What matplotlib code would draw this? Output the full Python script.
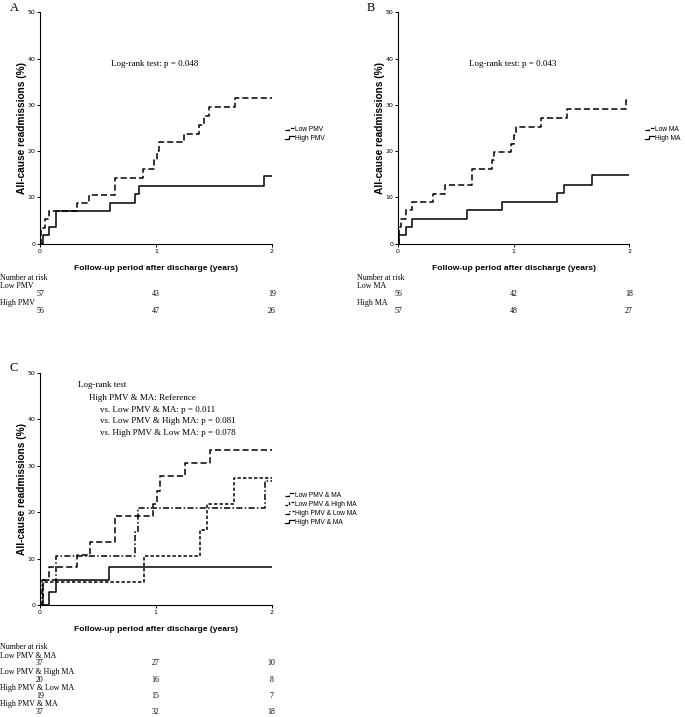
import matplotlib
matplotlib.use("Agg")
import matplotlib.pyplot as plt
from matplotlib.lines import Line2D
from matplotlib.legend_handler import HandlerBase
from matplotlib.transforms import blended_transform_factory

# panel A: PMV
a_low_t = [0, 0.01, 0.04, 0.08, 0.32, 0.42, 0.65, 0.89, 0.98, 1.01, 1.03, 1.24, 1.37, 1.41, 1.46, 1.68, 2.0]
a_low_y = [0, 3.5, 5.3, 7.0, 8.8, 10.6, 14.3, 16.2, 18.0, 20.0, 21.9, 23.8, 25.7, 27.6, 29.5, 31.5, 31.5]
a_high_t = [0, 0.03, 0.08, 0.14, 0.60, 0.82, 0.85, 1.93, 2.0]
a_high_y = [0, 1.8, 3.6, 7.1, 8.9, 10.7, 12.5, 14.6, 14.6]

# panel B: MA
b_low_t = [0, 0.005, 0.03, 0.07, 0.12, 0.30, 0.41, 0.64, 0.81, 0.83, 0.98, 1.00, 1.02, 1.24, 1.46, 1.97, 2.0]
b_low_y = [0, 3.6, 5.4, 7.2, 9.0, 10.8, 12.6, 16.2, 18.0, 19.8, 21.6, 23.4, 25.3, 27.2, 29.1, 31.1, 31.1]
b_high_t = [0, 0.01, 0.07, 0.12, 0.60, 0.90, 1.38, 1.44, 1.68, 2.0]
b_high_y = [0, 1.8, 3.6, 5.4, 7.2, 9.0, 10.9, 12.8, 14.8, 14.8]

# panel C: combined groups
c1_t = [0, 0.03, 0.08, 0.32, 0.43, 0.65, 0.98, 1.01, 1.04, 1.25, 1.47, 2.0]
c1_y = [0, 5.4, 8.1, 10.8, 13.5, 19.1, 21.8, 24.6, 27.8, 30.6, 33.5, 33.5]
c2_t = [0, 0.03, 0.90, 1.38, 1.44, 1.68, 2.0]
c2_y = [0, 5.0, 10.6, 16.2, 21.8, 27.4, 27.4]
c3_t = [0, 0.02, 0.14, 0.82, 0.85, 1.94, 2.0]
c3_y = [0, 5.3, 10.6, 15.8, 21.0, 26.7, 26.7]
c4_t = [0, 0.08, 0.14, 0.60, 2.0]
c4_y = [0, 2.7, 5.4, 8.1, 8.1]

risk_times = [0, 1, 2]
a_groups = ["Low PMV", "High PMV"]
a_risk = [[57, 43, 19], [56, 47, 26]]
b_groups = ["Low MA", "High MA"]
b_risk = [[56, 42, 18], [57, 48, 27]]
c_groups = ["Low PMV & MA", "Low PMV & High MA", "High PMV & Low MA", "High PMV & MA"]
c_risk = [[37, 27, 10], [20, 16, 8], [19, 15, 7], [37, 32, 18]]

W, H = 685, 717
fig = plt.figure(figsize=(W / 100, H / 100), dpi=100)
serif = "Liberation Serif"
sans = "Liberation Sans"

long_dash = (0, (4, 2))
short_dash = (0, (2.2, 1.4))
dash_dot = (0, (4, 1.5, 1, 1.5))
lw = 1.1


class StepHandler(HandlerBase):
    # small step-shaped legend icon
    def create_artists(self, legend, orig, xdescent, ydescent, width, height, fontsize, trans):
        x0 = -xdescent
        y0 = -ydescent
        xs = [x0, x0 + width * 0.4, x0 + width * 0.4, x0 + width]
        ys = [y0 + height * 0.2, y0 + height * 0.2, y0 + height * 0.8, y0 + height * 0.8]
        line = Line2D(xs, ys)
        line.update_from(orig)
        line.set_drawstyle("default")
        line.set_clip_box(None)
        line.set_clip_on(False)
        line.set_linewidth(0.9)
        line.set_transform(trans)
        return [line]


def px_axes(x0, x2, y0, y50):
    # axes rectangle from pixel positions of the data corners
    return fig.add_axes([x0 / W, 1 - y0 / H, (x2 - x0) / W, (y0 - y50) / H])


def style(ax):
    ax.set_xlim(0, 2)
    ax.set_ylim(0, 50)
    ax.set_xticks([0, 1, 2])
    ax.set_yticks(range(0, 51, 10))
    for s in ["top", "right"]:
        ax.spines[s].set_visible(False)
    for s in ["left", "bottom"]:
        ax.spines[s].set_linewidth(0.8)
    ax.tick_params(labelsize=4.5, length=2.5, width=0.7, pad=1)
    ax.set_xlabel("Follow-up period after discharge (years)", fontsize=6.1,
                  fontweight="bold", family=sans, labelpad=8)
    ax.set_ylabel("All-cause readmissions (%)", fontsize=7.3,
                  fontweight="bold", family=sans, labelpad=0)


def add_legend(ax, x, y, spacing):
    handles = ax.get_lines()
    ax.legend(handles=handles, loc="center left", bbox_to_anchor=(x / W, 1 - y / H),
              bbox_transform=fig.transFigure, frameon=False, borderpad=0,
              borderaxespad=0, handlelength=1.35, handleheight=0.7,
              handletextpad=0.1, labelspacing=spacing,
              handler_map={Line2D: StepHandler()},
              prop={"family": sans, "size": 4.8})


def risk_table(ax, x_label, y_rows, groups, risk):
    tr = blended_transform_factory(ax.transData, fig.transFigure)
    fig.text(x_label / W, 1 - y_rows[0] / H, "Number at risk", family=serif,
             fontsize=5.7, va="center")
    for i, g in enumerate(groups):
        fig.text(x_label / W, 1 - y_rows[1 + 2 * i] / H, g, family=serif,
                 fontsize=5.7, va="center")
        for t, n in zip(risk_times, risk[i]):
            ax.text(t, 1 - y_rows[2 + 2 * i] / H, str(n), transform=tr,
                    family=serif, fontsize=5.7, ha="center", va="center")


# ---- A ----
axA = px_axes(40, 272, 243.7, 12.5)
axA.step(a_low_t, a_low_y, where="post", color="black", lw=lw, linestyle=long_dash, label="Low PMV")
axA.step(a_high_t, a_high_y, where="post", color="black", lw=lw, label="High PMV")
style(axA)
fig.text(155 / W, 1 - 64 / H, "Log-rank test: p = 0.048",
         family=serif, fontsize=6.5, ha="center", va="center")
add_legend(axA, 285, 134, 0.2)
fig.text(10 / W, 1 - 8 / H, "A", family=serif, fontsize=9, va="center")
risk_table(axA, 0, [278.3, 286.3, 294.3, 302.7, 310.7], a_groups, a_risk)

# ---- B ----
axB = px_axes(398, 629, 243.7, 12.5)
axB.step(b_low_t, b_low_y, where="post", color="black", lw=lw, linestyle=long_dash, label="Low MA")
axB.step(b_high_t, b_high_y, where="post", color="black", lw=lw, label="High MA")
style(axB)
fig.text(513 / W, 1 - 64 / H, "Log-rank test: p = 0.043",
         family=serif, fontsize=6.5, ha="center", va="center")
add_legend(axB, 645, 134, 0.2)
fig.text(367 / W, 1 - 8 / H, "B", family=serif, fontsize=9, va="center")
risk_table(axB, 357, [278.3, 286.3, 294.3, 302.7, 310.7], b_groups, b_risk)

# ---- C ----
axC = px_axes(40, 271.5, 605, 373)
axC.step(c1_t, c1_y, where="post", color="black", lw=lw, linestyle=long_dash, label=c_groups[0])
axC.step(c2_t, c2_y, where="post", color="black", lw=lw, linestyle=short_dash, label=c_groups[1])
axC.step(c3_t, c3_y, where="post", color="black", lw=lw, linestyle=dash_dot, label=c_groups[2])
axC.step(c4_t, c4_y, where="post", color="black", lw=lw, label=c_groups[3])
style(axC)
c_text = [
    (78, 385, "Log-rank test"),
    (89, 398, "High PMV & MA: Reference"),
    (100, 410, "vs. Low PMV & MA: p = 0.011"),
    (100, 421.5, "vs. Low PMV & High MA: p = 0.081"),
    (100, 433, "vs. High PMV & Low MA: p = 0.078"),
]
for x, y, s in c_text:
    fig.text(x / W, 1 - y / H, s, family=serif, fontsize=6.5, va="center")
add_legend(axC, 285, 509, 0.3)
fig.text(10 / W, 1 - 368 / H, "C", family=serif, fontsize=9, va="center")
risk_table(axC, 0, [647, 655.7, 663.3, 671.7, 680, 688.3, 696, 704.3, 712.3], c_groups, c_risk)

fig.savefig("out.png", dpi=100)
